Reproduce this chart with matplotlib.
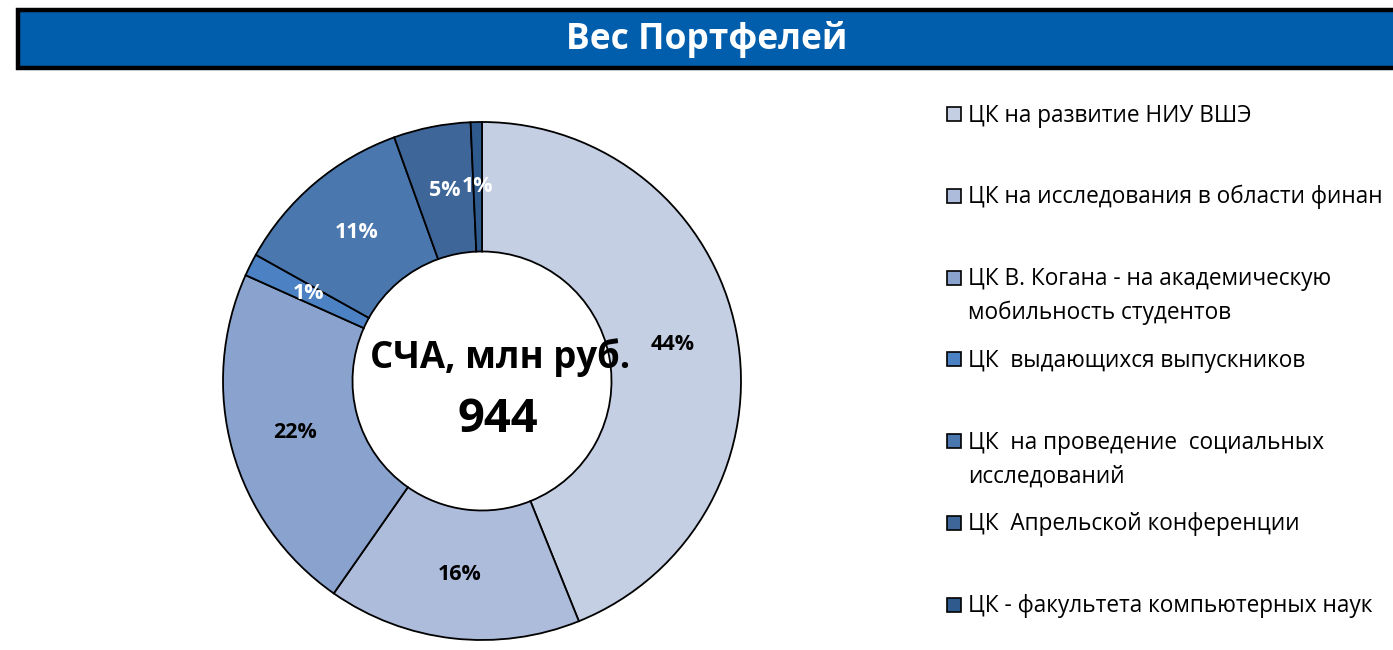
import matplotlib
matplotlib.use("Agg")
import matplotlib.pyplot as plt
from matplotlib.patches import Rectangle

plt.rcParams['font.family'] = ['Open Sans', 'DejaVu Sans']

# Data
labels = [
    "ЦК на развитие НИУ ВШЭ",
    "ЦК на исследования в области финан",
    "ЦК В. Когана - на академическую\nмобильность студентов",
    "ЦК  выдающихся выпускников",
    "ЦК  на проведение  социальных\nисследований",
    "ЦК  Апрельской конференции",
    "ЦК - факультета компьютерных наук",
]
shares = [43.9, 15.8, 22.0, 1.4, 11.4, 4.8, 0.7]
colors = ['#C4CFE3', '#AEBCDC', '#8AA3CE', '#4C82C3', '#4977AE', '#3E6699', '#2F5A8E']
pct_colors = ['black', 'black', 'black', 'white', 'white', 'white', 'white']
title = "Вес Портфелей"
center_label = "СЧА, млн руб."
nav_total = "944"

W, H = 1393, 650
fig = plt.figure(figsize=(W / 100, H / 100), dpi=100)

# title bar
fig.patches.append(Rectangle((18 / W, 1 - 68 / H), 1.0, 58 / H, transform=fig.transFigure,
                             facecolor='#005EAC', edgecolor='black', linewidth=3.2))
fig.text(707 / W, 1 - 40 / H, title, color='white', fontsize=25.5, fontweight='bold',
         ha='center', va='center')

# donut
cx, cy, r = 482, 381, 259
ax = fig.add_axes([(cx - r) / W, (H - cy - r) / H, 2 * r / W, 2 * r / H])
wedges, texts, autotexts = ax.pie(
    shares, colors=colors, startangle=90, counterclock=False,
    autopct='%.0f%%', pctdistance=0.75, radius=1.0,
    wedgeprops=dict(width=0.5, edgecolor='black', linewidth=1.3),
    textprops=dict(fontsize=15.5, fontweight='bold'))
for t, c in zip(autotexts, pct_colors):
    t.set_color(c)
ax.set_xlim(-1.0, 1.0)
ax.set_ylim(-1.0, 1.0)
ax.text(0.07, 0.09, center_label, ha='center', va='center', fontsize=26.3, fontweight='bold')
ax.text(0.06, -0.15, nav_total, ha='center', va='center', fontsize=34, fontweight='bold')

# legend on the right
y0, step, line_step = 114, 81.8, 34
for i, (lab, col) in enumerate(zip(labels, colors)):
    yc = y0 + step * i
    fig.patches.append(Rectangle((947 / W, 1 - (yc + 7) / H), 14 / W, 14 / H,
                                 transform=fig.transFigure, facecolor=col,
                                 edgecolor='black', linewidth=1.2))
    for k, line in enumerate(lab.split("\n")):
        fig.text(968 / W, 1 - (yc + 7.5 + line_step * k) / H, line, fontsize=16.3,
                 ha='left', va='baseline')

fig.savefig("out.png", dpi=100)
